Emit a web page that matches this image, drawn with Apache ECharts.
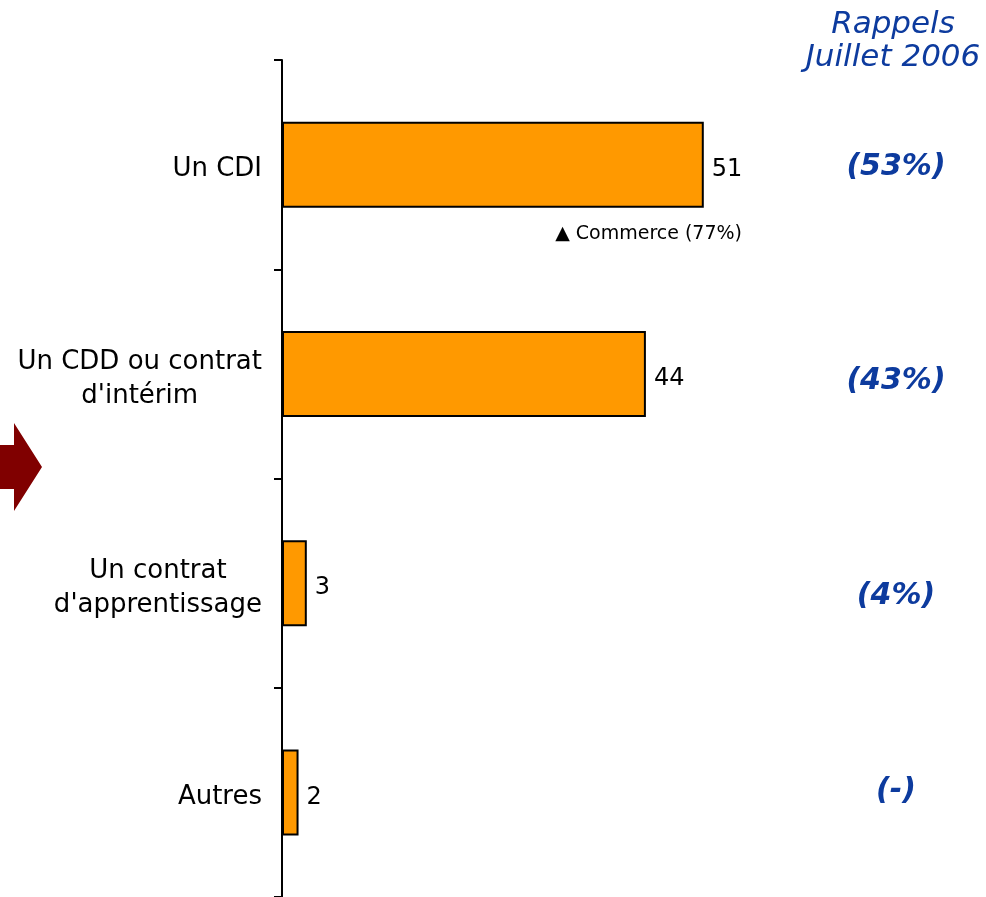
<!DOCTYPE html>
<html><head><meta charset="utf-8">
<script src="https://cdn.jsdelivr.net/npm/echarts@6/dist/echarts.min.js"></script>
<style>html,body{margin:0;padding:0;background:#fff}#c{width:986px;height:897px}</style>
</head><body><div id="c"></div>
<script>
const categories = ["Un CDI", "Un CDD ou contrat\nd'intérim", "Un contrat\nd'apprentissage", "Autres"];
const values = [51, 44, 3, 2];
const rappels = ["(53%)", "(43%)", "(4%)", "(-)"];
const rappelsTitle = "Rappels\nJuillet 2006";
const note = "▲ Commerce (77%)";

const chart = echarts.init(document.getElementById('c'), null, {renderer: 'canvas'});
const font = '"DejaVu Sans", Verdana, sans-serif';
chart.setOption({
  animation: false,
  grid: {left: 282, right: 1, top: 60, height: 840},
  xAxis: {type: 'value', min: 0, max: 85, show: false},
  yAxis: {
    type: 'category', data: categories, inverse: true,
    axisLine: {lineStyle: {color: '#000', width: 2}},
    axisTick: {show: true, length: 8, lineStyle: {color: '#000', width: 2}},
    axisLabel: {
      margin: 20, color: '#000', fontFamily: font, fontSize: 26, lineHeight: 34,
      padding: [10, 0, 0, 0],
      formatter: v => v.split('\n').map(s => '{a|' + s + '}').join('\n'),
      rich: {a: {align: 'center', fontFamily: font, fontSize: 26, lineHeight: 34, color: '#000'}}
    }
  },
  series: [{
    type: 'bar', data: values, barWidth: 86,
    itemStyle: {color: '#FF9900', borderColor: '#000', borderWidth: 2},
    label: {show: true, position: 'right', distance: 8, offset: [0, 5], color: '#000', fontFamily: font, fontSize: 24}
  }]
});

const blue = '#0D3B9E';
const g = [];
g.push({type: 'text', style: {text: rappelsTitle, x: 893, y: 8, textAlign: 'center', fill: blue, font: 'italic 31px ' + font, lineHeight: 33}});
const yOff = [3, 7, 13, -1];
rappels.forEach((t, i) => {
  const y = chart.convertToPixel({yAxisIndex: 0}, categories[i]);
  g.push({type: 'text', style: {text: t, x: 896, y: y + yOff[i], textAlign: 'center', textVerticalAlign: 'middle', fill: blue, font: 'italic bold 30px ' + font}});
});
const y0 = chart.convertToPixel({yAxisIndex: 0}, categories[0]);
g.push({type: 'text', style: {text: note, x: 742, y: y0 + 69, textAlign: 'right', textVerticalAlign: 'middle', fill: '#000', font: '19px ' + font}});
g.push({type: 'polygon', shape: {points: [[0, 445], [14, 445], [14, 423], [42, 467], [14, 511], [14, 489], [0, 489]]}, style: {fill: '#800000'}});
chart.setOption({graphic: g});
</script></body></html>
